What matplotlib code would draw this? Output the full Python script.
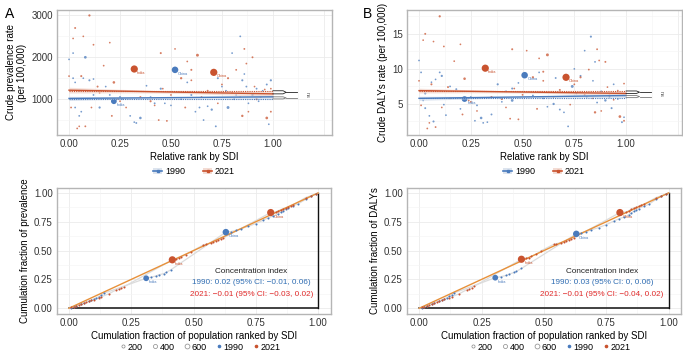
import matplotlib
matplotlib.use("Agg")
import matplotlib.pyplot as plt
from matplotlib.lines import Line2D
from matplotlib.patches import Patch
import numpy as np

plt.rcParams['font.family'] = ['Liberation Sans', 'DejaVu Sans']

BLUE = "#4a7bbd"
RED = "#c9532f"
ORANGE = "#e8913a"
TXT_BLUE = "#2f6db3"
TXT_RED = "#e02a2a"

# population (millions) of the smaller countries, same order in every top series
pop_small = [5, 12, 3, 25, 8, 1, 40, 2, 15, 60, 4, 9, 30, 6, 2, 18, 110, 7, 3, 22,
             50, 1, 11, 35, 5, 14, 8, 2, 70, 20, 4, 10, 160, 6, 28, 3, 9, 45, 2, 12,
             5, 80, 16, 7, 1, 24, 3, 55, 10, 6, 130, 4, 19, 2, 8, 33]

big_names = ["India", "China"]
big_pop90 = [870, 1150]
big_pop21 = [1410, 1420]

# ---- panel A, top: crude prevalence rate vs relative SDI rank
a_x90 = [0.00, 0.02, 0.03, 0.05, 0.05, 0.07, 0.10, 0.12, 0.12, 0.15, 0.18, 0.20, 0.25, 0.30,
         0.32, 0.33, 0.35, 0.38, 0.40, 0.42, 0.45, 0.50, 0.55, 0.60, 0.62, 0.64, 0.66, 0.68,
         0.70, 0.72, 0.75, 0.77, 0.78, 0.80, 0.81, 0.82, 0.84, 0.85, 0.86, 0.87, 0.88, 0.90,
         0.92, 0.93, 0.95, 0.97, 0.98, 0.99, 0.03, 0.06, 0.08, 0.02, 0.26, 0.47, 0.58, 0.73]
a_y90 = [1950, 1500, 1400, 1200, 600, 1500, 1450, 1480, 1100, 800, 1300, 1100, 1050, 600,
         450, 430, 550, 1320, 1050, 900, 1250, 850, 1000, 1100, 700, 800, 500, 830,
         750, 350, 1300, 1200, 800, 2100, 1000, 1100, 2500, 1450, 1600, 1300, 900, 1100,
         1250, 950, 1200, 1350, 400, 1450, 800, 700, 2000, 2100, 1000, 900, 1400, 1500]
a_x21 = [0.00, 0.01, 0.02, 0.03, 0.04, 0.05, 0.06, 0.07, 0.08, 0.10, 0.11, 0.12, 0.14, 0.17,
         0.20, 0.21, 0.22, 0.24, 0.28, 0.35, 0.40, 0.42, 0.44, 0.45, 0.46, 0.48, 0.50, 0.52,
         0.55, 0.57, 0.58, 0.60, 0.63, 0.65, 0.68, 0.73, 0.75, 0.78, 0.80, 0.82, 0.84, 0.85,
         0.86, 0.87, 0.88, 0.90, 0.91, 0.92, 0.94, 0.96, 0.97, 0.99, 0.99, 0.15, 0.25, 0.60]
a_y21 = [1550, 800, 2450, 2700, 300, 350, 1550, 2500, 350, 3000, 800, 2300, 1300, 1800,
         2350, 600, 1400, 1000, 800, 1050, 950, 850, 500, 2100, 1250, 480, 1100, 2200,
         1500, 800, 1900, 1450, 2050, 1050, 1200, 900, 1350, 1500, 1150, 1700, 1050, 600,
         2200, 1850, 700, 2000, 1300, 1000, 1050, 1230, 550, 1250, 700, 1150, 950, 1700]
a_big_x90 = [0.22, 0.52]
a_big_y90 = [950, 1700]
a_big_x21 = [0.32, 0.71]
a_big_y21 = [1720, 1640]
# fitted line: value at rank 0, value at rank 1, CI half width at ends / middle, dotted mean
a_fit90 = [1017, 1055, 50, 20, 1005]
a_fit21 = [1214, 1126, 70, 30, 1200]

# ---- panel B, top: crude DALYs rate vs relative SDI rank
b_x90 = [0.00, 0.01, 0.02, 0.03, 0.05, 0.06, 0.07, 0.08, 0.10, 0.11, 0.12, 0.15, 0.18, 0.20,
         0.25, 0.28, 0.30, 0.31, 0.33, 0.35, 0.38, 0.40, 0.42, 0.45, 0.48, 0.55, 0.60, 0.62,
         0.65, 0.68, 0.70, 0.72, 0.74, 0.76, 0.78, 0.80, 0.81, 0.83, 0.84, 0.86, 0.88, 0.90,
         0.92, 0.94, 0.96, 0.98, 0.99, 0.03, 0.13, 0.27, 0.45, 0.58, 0.66, 0.75, 0.85, 0.93]
b_y90 = [11.2, 9.5, 5.5, 4.4, 3.3, 8.1, 2.5, 8.5, 9.5, 9.0, 4.9, 7.5, 7.1, 4.3,
         6.0, 4.8, 3.0, 2.3, 2.4, 3.5, 7.8, 5.3, 6.8, 7.2, 8.0, 6.2, 5.8, 4.6,
         5.0, 4.2, 3.8, 1.8, 7.5, 6.5, 9.0, 12.6, 6.0, 14.6, 8.3, 5.2, 6.8, 5.5,
         6.0, 7.8, 5.7, 2.4, 3.1, 6.5, 3.4, 2.6, 5.5, 9.5, 8.7, 10.0, 11.0, 4.4]
b_x21 = [0.00, 0.01, 0.02, 0.03, 0.04, 0.05, 0.06, 0.07, 0.08, 0.10, 0.11, 0.12, 0.14, 0.17,
         0.20, 0.21, 0.22, 0.24, 0.28, 0.35, 0.40, 0.42, 0.44, 0.45, 0.46, 0.48, 0.50, 0.52,
         0.55, 0.57, 0.58, 0.60, 0.62, 0.65, 0.68, 0.73, 0.75, 0.78, 0.80, 0.82, 0.84, 0.85,
         0.86, 0.87, 0.88, 0.90, 0.91, 0.92, 0.94, 0.96, 0.97, 0.99, 0.99, 0.15, 0.25, 0.60]
b_y21 = [8.3, 4.8, 14.1, 15.0, 1.5, 2.3, 7.8, 13.9, 1.7, 17.5, 4.5, 13.2, 7.4, 11.1,
         13.5, 3.5, 8.6, 5.5, 4.0, 6.0, 5.7, 4.5, 2.9, 12.8, 7.2, 2.8, 6.3, 12.6,
         8.8, 4.3, 11.5, 8.3, 12.0, 6.0, 7.0, 4.9, 7.8, 8.8, 6.3, 9.9, 5.8, 3.8,
         12.8, 11.2, 4.0, 11.0, 7.4, 6.2, 5.6, 6.9, 3.2, 7.9, 2.6, 5.8, 5.3, 9.6]
b_big_x90 = [0.22, 0.51]
b_big_y90 = [5.7, 9.1]
b_big_x21 = [0.32, 0.71]
b_big_y21 = [10.1, 8.8]
b_fit90 = [5.8, 6.2, 0.3, 0.12, 5.9]
b_fit21 = [6.9, 6.5, 0.35, 0.15, 6.85]

# ---- panel A, bottom: concentration curves (cumulative population, cumulative prevalence)
la_x90 = [0.01, 0.02, 0.03, 0.05, 0.06, 0.08, 0.09, 0.10, 0.11, 0.12, 0.13, 0.14, 0.33, 0.35,
          0.36, 0.38, 0.39, 0.41, 0.65, 0.67, 0.69, 0.72, 0.75, 0.78, 0.80, 0.82, 0.84, 0.85,
          0.86, 0.87, 0.88, 0.90, 0.92, 0.95, 0.97, 0.99]
la_y90 = [0.005, 0.012, 0.02, 0.035, 0.045, 0.06, 0.07, 0.08, 0.09, 0.10, 0.115, 0.13, 0.27, 0.28,
          0.29, 0.30, 0.31, 0.335, 0.665, 0.675, 0.69, 0.71, 0.735, 0.765, 0.785, 0.80, 0.82, 0.835,
          0.845, 0.86, 0.87, 0.89, 0.905, 0.945, 0.97, 0.99]
la_x21 = [0.01, 0.02, 0.03, 0.04, 0.05, 0.06, 0.07, 0.08, 0.09, 0.10, 0.12, 0.13, 0.16, 0.19,
          0.20, 0.21, 0.22, 0.43, 0.44, 0.45, 0.47, 0.49, 0.54, 0.55, 0.57, 0.58, 0.59, 0.60,
          0.61, 0.62, 0.83, 0.84, 0.85, 0.86, 0.87, 0.88, 0.89, 0.90, 0.95, 0.97, 0.99]
la_y21 = [0.007, 0.014, 0.022, 0.03, 0.038, 0.045, 0.052, 0.06, 0.068, 0.075, 0.09, 0.10, 0.125, 0.16,
          0.165, 0.175, 0.185, 0.43, 0.435, 0.445, 0.465, 0.49, 0.55, 0.555, 0.565, 0.575, 0.585, 0.595,
          0.60, 0.61, 0.835, 0.845, 0.855, 0.865, 0.87, 0.88, 0.89, 0.895, 0.96, 0.975, 0.99]
la_big_x90 = [0.31, 0.63]
la_big_y90 = [0.26, 0.66]
la_big_x21 = [0.415, 0.81]
la_big_y21 = [0.42, 0.83]
ci_a = ["Concentration index",
        "1990: 0.02 (95% CI: \u22120.01, 0.06)",
        "2021: \u22120.01 (95% CI: \u22120.03, 0.02)"]

# ---- panel B, bottom: concentration curves for DALYs
lb_x90 = la_x90
lb_y90 = [0.005, 0.013, 0.021, 0.036, 0.046, 0.062, 0.072, 0.082, 0.092, 0.103, 0.118, 0.133, 0.275, 0.285,
          0.295, 0.31, 0.32, 0.345, 0.655, 0.665, 0.68, 0.70, 0.725, 0.755, 0.775, 0.79, 0.81, 0.825,
          0.84, 0.855, 0.865, 0.885, 0.90, 0.945, 0.97, 0.99]
lb_x21 = la_x21
lb_y21 = [0.007, 0.014, 0.022, 0.03, 0.038, 0.046, 0.053, 0.061, 0.069, 0.077, 0.092, 0.10, 0.125, 0.16,
          0.165, 0.178, 0.19, 0.435, 0.44, 0.45, 0.47, 0.50, 0.555, 0.56, 0.57, 0.578, 0.585, 0.59,
          0.60, 0.61, 0.835, 0.845, 0.86, 0.87, 0.875, 0.885, 0.895, 0.90, 0.96, 0.975, 0.99]
lb_big_x90 = [0.305, 0.63]
lb_big_y90 = [0.265, 0.645]
lb_big_x21 = [0.41, 0.805]
lb_big_y21 = [0.425, 0.83]
ci_b = ["Concentration index",
        "1990: 0.03 (95% CI: 0, 0.06)",
        "2021: \u22120.01 (95% CI: \u22120.04, 0.02)"]


def psize(pop):
    return 1.5 + 0.018 * np.asarray(pop, dtype=float)


def style(ax):
    for s in ax.spines.values():
        s.set_color("#b5b5b5")
        s.set_linewidth(1.0)
    ax.tick_params(length=0, labelsize=7, colors="#333333", pad=3)
    ax.set_axisbelow(True)


def label_big(ax, xs, ys, color):
    for n, x, y in zip(big_names, xs, ys):
        ax.annotate(n, (x, y), xytext=(2, -1.5), textcoords="offset points",
                    fontsize=2.8, color=color, ha="left", va="top")


def top_panel(ax, x90, y90, x21, y21, bx90, by90, bx21, by21, fit90, fit21,
              xlim, ylim, yticks, grid_minor, ylabel):
    style(ax)
    ax.set_xlim(xlim)
    ax.set_ylim(ylim)
    for g in [0, 0.25, 0.5, 0.75, 1.0, 1.25]:
        ax.axvline(g, color="#ebebeb", lw=0.6, zorder=0)
    for g in [0.125, 0.375, 0.625, 0.875, 1.125]:
        ax.axvline(g, color="#f4f4f4", lw=0.4, zorder=0)
    for g in yticks:
        ax.axhline(g, color="#ebebeb", lw=0.6, zorder=0)
    for g in grid_minor:
        ax.axhline(g, color="#f4f4f4", lw=0.4, zorder=0)

    ax.scatter(x90, y90, s=psize(pop_small), color=BLUE, alpha=0.75, lw=0, zorder=2)
    ax.scatter(x21, y21, s=psize(pop_small), color=RED, alpha=0.75, lw=0, zorder=2)
    ax.scatter(bx90, by90, s=psize(big_pop90), color=BLUE, lw=0, zorder=3)
    ax.scatter(bx21, by21, s=psize(big_pop21), color=RED, lw=0, zorder=3)
    label_big(ax, bx90, by90, BLUE)
    label_big(ax, bx21, by21, RED)

    xx = np.linspace(0, 1, 50)
    for fit, c, fc in [(fit90, BLUE, "#c9d6e8"), (fit21, RED, "#f0cfc4")]:
        y0, y1, hw_end, hw_mid, mean = fit
        yy = y0 + (y1 - y0) * xx
        hw = np.sqrt(hw_mid ** 2 + (hw_end ** 2 - hw_mid ** 2) * ((xx - 0.5) / 0.5) ** 2)
        ax.fill_between(xx, yy - hw, yy + hw, color=fc, alpha=0.6, lw=0, zorder=3)
        ax.plot(xx, yy, color=c, lw=1.0, zorder=4)
        ax.plot([0, 1.0], [mean, mean], color=c, lw=0.8, ls=(0, (1, 1)), zorder=4)
        # bracket joining fit end and mean on the right
        top, bot = max(y1, mean), min(y1, mean)
        mid = (top + bot) / 2
        bc = "#222222" if c == RED else "#777777"
        ax.plot([1.0, 1.05, 1.065, 1.05, 1.0], [top, top, mid, bot, bot], color=bc, lw=0.6, zorder=4)
        ax.plot([1.065, 1.12], [mid, mid], color=bc, lw=0.6, zorder=4)
    mid_txt = (fit90[1] + fit21[1] + fit90[4] + fit21[4]) / 4
    ax.text(1.17, mid_txt, "ns", rotation=270, fontsize=4, color="#555555", ha="center", va="center")

    ax.set_xticks([0, 0.25, 0.5, 0.75, 1.0])
    ax.set_xticklabels(["0.00", "0.25", "0.50", "0.75", "1.00"])
    ax.set_yticks(yticks)
    ax.set_yticklabels([str(t) for t in yticks])
    ax.set_xlabel("Relative rank by SDI", fontsize=7, labelpad=2)
    ax.set_ylabel(ylabel, fontsize=7, labelpad=3)


def bottom_panel(ax, x90, y90, x21, y21, bx90, by90, bx21, by21, ci_lines, xlim, ylabel):
    style(ax)
    ax.set_xlim(xlim)
    ax.set_ylim(-0.05, 1.043)
    ticks = [0, 0.25, 0.5, 0.75, 1.0]
    for g in ticks:
        ax.axvline(g, color="#ebebeb", lw=0.6, zorder=0)
        ax.axhline(g, color="#ebebeb", lw=0.6, zorder=0)
    for g in [0.125, 0.375, 0.625, 0.875]:
        ax.axvline(g, color="#f4f4f4", lw=0.4, zorder=0)
        ax.axhline(g, color="#f4f4f4", lw=0.4, zorder=0)

    ax.plot([0, 1], [0, 0], color="#333333", lw=1.3, zorder=2)
    ax.plot([1, 1], [0, 1], color="#111111", lw=1.0, zorder=2)
    ax.plot([0, 1], [0, 1], color=ORANGE, lw=1.0, zorder=3)

    for xs, ys, bx, by in [(x90, y90, bx90, by90), (x21, y21, bx21, by21)]:
        cx = np.concatenate([[0], xs, bx, [1]])
        cy = np.concatenate([[0], ys, by, [1]])
        o = np.argsort(cx)
        ax.plot(cx[o], cy[o], color="#dcdcdc", lw=0.9, zorder=2)

    ax.scatter(x90, y90, s=2.2, color=BLUE, lw=0, zorder=4)
    ax.scatter(x21, y21, s=2.2, color=RED, lw=0, zorder=4)
    ax.scatter(bx90, by90, s=psize(big_pop90), color=BLUE, lw=0, zorder=5)
    ax.scatter(bx21, by21, s=psize(big_pop21), color=RED, lw=0, zorder=5)
    label_big(ax, bx90, by90, BLUE)
    label_big(ax, bx21, by21, RED)

    ax.text(0.733, 0.318, ci_lines[0], fontsize=5.9, color="#222222", ha="center", va="center")
    ax.text(0.733, 0.222, ci_lines[1], fontsize=5.9, color=TXT_BLUE, ha="center", va="center")
    ax.text(0.733, 0.122, ci_lines[2], fontsize=5.9, color=TXT_RED, ha="center", va="center")

    ax.set_xticks(ticks)
    ax.set_xticklabels(["0.00", "0.25", "0.50", "0.75", "1.00"])
    ax.set_yticks(ticks)
    ax.set_yticklabels(["0.00", "0.25", "0.50", "0.75", "1.00"])
    ax.set_xlabel("Cumulation fraction of population ranked by SDI", fontsize=7, labelpad=2)
    ax.set_ylabel(ylabel, fontsize=7, labelpad=3)


fig = plt.figure(figsize=(6.83, 3.54), dpi=100)
W, H = 683, 354

ax_tl = fig.add_axes([57 / W, 1 - 135 / H, 275 / W, 125 / H])
ax_tr = fig.add_axes([407 / W, 1 - 135 / H, 275 / W, 125 / H])
ax_bl = fig.add_axes([57 / W, 1 - 314 / H, 274 / W, 126 / H])
ax_br = fig.add_axes([407 / W, 1 - 314 / H, 274 / W, 126 / H])

top_panel(ax_tl, a_x90, a_y90, a_x21, a_y21, a_big_x90, a_big_y90, a_big_x21, a_big_y21,
          a_fit90, a_fit21, (-0.059, 1.29), (143, 3130), [1000, 2000, 3000], [500, 1500, 2500],
          "Crude prevalence rate\n(per 100,000)")
top_panel(ax_tr, b_x90, b_y90, b_x21, b_y21, b_big_x90, b_big_y90, b_big_x21, b_big_y21,
          b_fit90, b_fit21, (-0.058, 1.27), (0.57, 18.4), [5, 10, 15], [2.5, 7.5, 12.5, 17.5],
          "Crude DALYs rate (per 100,000)")
bottom_panel(ax_bl, la_x90, la_y90, la_x21, la_y21, la_big_x90, la_big_y90, la_big_x21, la_big_y21,
             ci_a, (-0.048, 1.052), "Cumulation fraction of prevalence")
bottom_panel(ax_br, lb_x90, lb_y90, lb_x21, lb_y21, lb_big_x90, lb_big_y90, lb_big_x21, lb_big_y21,
             ci_b, (-0.049, 1.05), "Cumulation fraction of DALYs")

# legends
for cx in [194 / W, 544 / W]:
    h = [(Patch(facecolor="#dde4ee", edgecolor="none"), Line2D([], [], color=BLUE, lw=1.2, marker="s", ms=2)),
         (Patch(facecolor="#f3dcd4", edgecolor="none"), Line2D([], [], color=RED, lw=1.2, marker="s", ms=2))]
    fig.legend(h, ["1990", "2021"], loc="center", bbox_to_anchor=(cx, 1 - 172 / H), ncol=2,
               frameon=False, fontsize=6.5, handlelength=1.0, handleheight=0.6,
               handletextpad=0.3, columnspacing=2.0, borderpad=0)

    size_h = [Line2D([], [], ls="none", marker="o", mfc="none", mec="#888888", mew=0.5,
                     ms=np.sqrt(psize(v))) for v in [200, 400, 600]]
    size_h += [Line2D([], [], ls="none", marker="o", color=BLUE, ms=1.6),
               Line2D([], [], ls="none", marker="o", color=RED, ms=1.6)]
    fig.legend(size_h, ["200", "400", "600", "1990", "2021"], loc="center",
               bbox_to_anchor=(cx + 6 / W, 1 - 347 / H), ncol=5, frameon=False, fontsize=6.5,
               handlelength=0.8, handletextpad=0.1, columnspacing=1.0, borderpad=0)

fig.text(5 / W, 1 - 14 / H, "A", fontsize=10, va="center", ha="left")
fig.text(363 / W, 1 - 14 / H, "B", fontsize=10, va="center", ha="left")

fig.savefig("out.png", dpi=100)
